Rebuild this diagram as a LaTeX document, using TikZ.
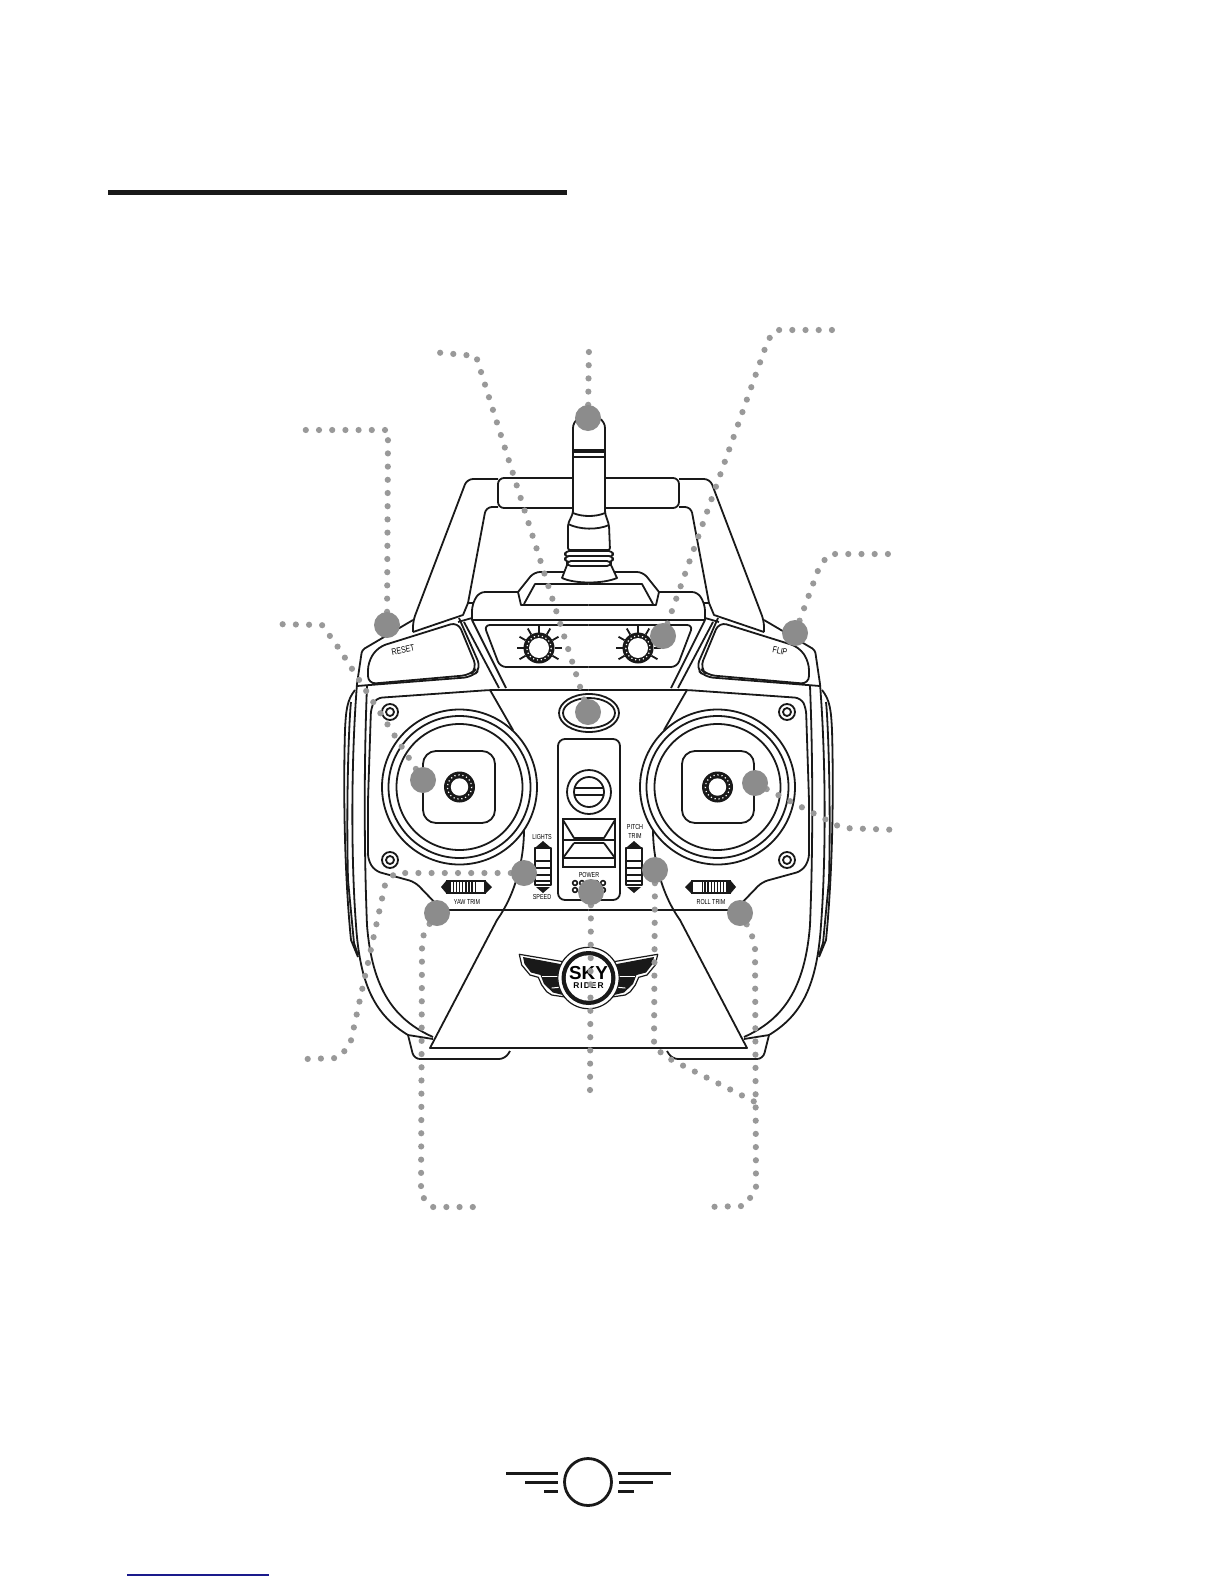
\documentclass[tikz,border=0pt]{standalone}
\usepackage{xcolor}
\usepackage{fontspec}
\newfontfamily\labelfont[FakeStretch=0.75]{Liberation Sans}
\newfontfamily\logofont{Liberation Sans}
\newfontfamily\logospaced[LetterSpace=12]{Liberation Sans}
\definecolor{markergrey}{HTML}{8C8C8C}
\definecolor{dotgrey}{HTML}{999999}
\definecolor{linkblue}{HTML}{1A1A8C}
\pgfdeclarelayer{front}
\pgfsetlayers{main,front}
\tikzstyle{outline} = [draw=black!90, line width=0.9pt, line join=round]
\tikzstyle{softline} = [outline, rounded corners=3pt]
\tikzstyle{marker} = [circle, fill=markergrey, minimum size=13pt, inner sep=0pt]
\tikzstyle{leader} = [draw=dotgrey, line width=3.1pt, line cap=round, dash pattern=on 0pt off 6.6pt]
\tikzstyle{tinylabel} = [font=\labelfont\fontsize{3.6}{4}\selectfont, inner sep=0pt, text=black]
\tikzstyle{bigbar} = [line width=1.5pt, draw=black!90]
\newcommand{\dialring}[3]{
    \fill[black!90] (#1,#2) circle [radius=15.5];
    \draw[white, line width=0.6pt, dash pattern=on 0.6pt off 1.4pt] (#1,#2) circle [radius=12.2];
    \fill[white] (#1,#2) circle [radius=#3];
}
\begin{document}
\begin{tikzpicture}[x=0.5pt, y=-0.5pt]
    \useasboundingbox (0,0) rectangle (1224,1584);

    % Heading rule and page foot
    \draw[line width=2.5pt, black!90] (108,192) -- (567,192);
    \draw[linkblue, line width=0.6pt] (127,1575) -- (269,1575);
    \draw[line width=1.4pt, black!90] (588,1482) circle [radius=23.5];
    \draw[bigbar] (506,1473) -- (558,1473);
    \draw[bigbar] (525,1482) -- (558,1482);
    \draw[bigbar] (544,1491) -- (558,1491);
    \draw[bigbar] (618,1473) -- (671,1473);
    \draw[bigbar] (619,1482) -- (653,1482);
    \draw[bigbar] (618,1491) -- (634,1491);

    % Handle bar
    \draw[softline] (498,478) rectangle (679,508);

    % Both halves of the controller
    \foreach \sx/\off in {1/0, -1/1177} {
    \begin{scope}[shift={(\off,0)}, xscale=\sx]
        % Handle
        \draw[softline] (413,632) -- (413,621) -- (467,479) -- (498,479);
        \draw[softline] (468,603) -- (486,507) -- (498,507);
        \draw[outline] (413,632) -- (463,615) -- (468,603) -- (473,603);

        % Shell
        \draw[outline, rounded corners=1.5pt] (413,620) -- (362,650) -- (357,684);
        \draw[outline] (357,684) .. controls (351,760) and (351,860) .. (356,925) .. controls (360,985) and (375,1015) .. (408,1035) -- (433,1039);
        \draw[outline] (367,686) .. controls (364,760) and (364,850) .. (367,925) .. controls (372,990) and (395,1020) .. (433,1037);
        \draw[softline] (408,1035) -- (414,1059) -- (505,1059) -- (510,1051);

        % Grip
        \draw[outline] (355,690) .. controls (347,700) and (346,710) .. (345,730) .. controls (343,800) and (345,880) .. (351,940) -- (358,957);
        \draw[outline] (351,702) .. controls (349,720) and (346,800) .. (348,880) -- (354,943) -- (358,955);

        % Shoulder button
        \draw[outline, rounded corners=4pt] (368,684) -- (368,662) -- (378,647) -- (458,622) -- (477,668) -- (470,675) -- cycle;
        \draw[outline] (458,622) -- (472,618);
        \draw[outline, rounded corners=4pt] (459,618) -- (481,668) -- (472,677) -- (357,686);

        % Top panel
        \draw[softline] (472,620) -- (472,605) -- (479,592) -- (518,592);
        \draw[outline] (472,620) -- (588.5,620);
        \draw[outline] (472,620) -- (506,688);
        \draw[outline] (464,622) -- (499,688);
        \draw[softline] (518,592) -- (534,572) -- (588.5,572);
        \draw[outline] (518,592) -- (521,605) -- (588.5,605);
        \draw[outline] (524,604) -- (535,584) -- (588.5,584);
        \draw[softline] (588.5,625) -- (484,625) -- (500,667) -- (588.5,667);

        % Dials
        \foreach \ang in {0,30,60,90,120,150,180,210,330} {
            \draw[outline] (539,648) ++(\ang:-15.5) -- ++(\ang:-7);
        }
        \dialring{539}{648}{10}

        % Main panel
        \draw[softline] (588.5,690) -- (490,690) -- (376,698) -- (371,708) -- (368,800) -- (368,860) -- (375,871) -- (415,882) -- (442,910) -- (588.5,910);

        % Centre plate
        \draw[outline] (490,690) -- (513,730);
        \draw[outline] (524,830) .. controls (524,860) and (515,895) .. (497,920) -- (430,1048) -- (588.5,1048);

        % Stick well
        \draw[outline, fill=white] (459.5,787) circle [radius=77.5];
        \draw[outline] (459.5,787) circle [radius=71];
        \draw[outline] (459.5,787) circle [radius=63];
        \draw[outline, rounded corners=6.5pt] (423,751) rectangle (495,823);
        \dialring{459.5}{787}{8.7}

        % Screws
        \foreach \yy in {712,860} {
            \draw[outline] (390,\yy) circle [radius=8];
            \draw[outline] (390,\yy) circle [radius=4];
        }

        % Horizontal trim
        \fill[black!90] (446,880) rectangle (486,894);
        \foreach \i in {0,...,7} {
            \fill[white] ({451+3.1*\i},882) rectangle ({452.8+3.1*\i},892);
        }
        \fill[white] (475.5,882) rectangle (484,892);
        \fill[black!90] (446,881) -- (441,887) -- (446,893) -- cycle;
        \fill[black!90] (486,881) -- (492,887) -- (486,893) -- cycle;

        % Vertical trim
        \draw[outline, line width=1pt] (535,848) rectangle (551,885);
        \foreach \yy in {861,868,875,881} {
            \draw[outline] (535,\yy) -- (551,\yy);
        }
        \fill[black!90] (536,847) -- (543,841) -- (550,847) -- cycle;
        \fill[black!90] (536,887) -- (543,893) -- (550,887) -- cycle;

        % Logo wing
        \draw[outline, line width=0.6pt, fill=white] (519.3,954.3) -- (563.3,961.7) -- (565,997) -- (551.7,995) -- (546.7,991.7) -- (541.7,985) -- (538.3,977.3) -- (530,975) -- (521.7,965) -- cycle;
        \fill[black!90] (523,957) -- (563,964.5) -- (563,995) -- (553,992.5) -- (544,984) -- (540.5,975) -- (531,972.5) -- (524.5,964) -- cycle;
        \draw[white, line width=0.5pt] (541.7,976) -- (562,976);
        \draw[white, line width=0.5pt] (551.7,988) -- (563,987);
    \end{scope}
    }

    % Antenna mount
    \draw[outline, rounded corners=1pt, fill=white] (568,550) -- (568,524) -- (573,513) -- (573,430) .. controls (573,420) and (582,415) .. (589,415) .. controls (596,415) and (605,420) .. (605,430) -- (605,513) -- (609,525) -- (610,550) -- cycle;
    \draw[outline] (573,513) .. controls (582,517) and (596,517) .. (605,513);
    \draw[outline] (568,524) .. controls (580,530) and (598,530) .. (609,525);
    \draw[line width=2.2pt, black!90] (573,451) -- (605,451);
    \draw[outline] (573,457) -- (605,457);
    \draw[outline, fill=white] (567,565) -- (562,578) .. controls (575,584) and (603,584) .. (617,578) -- (611,565) -- cycle;
    \draw[outline, fill=white, rounded corners=2pt] (565,551) rectangle (613,557);
    \draw[outline, fill=white, rounded corners=2pt] (565,556) rectangle (613,562);
    \draw[outline, fill=white, rounded corners=2pt] (567,561) rectangle (611,566);

    % Centre column
    \draw[outline, rounded corners=3.5pt] (558,739) rectangle (620,900);
    \draw[outline] (589,713) ellipse [x radius=30, y radius=19];
    \draw[outline] (589,713) ellipse [x radius=26, y radius=15];
    \draw[outline] (589,792) circle [radius=22];
    \draw[outline] (589,792) circle [radius=15];
    \draw[outline] (575,788) -- (603,788);
    \draw[outline] (575,795) -- (603,795);

    % Power switch
    \draw[line width=1.1pt, black!90] (563,819) rectangle (615,867);
    \draw[line width=1.4pt, black!90] (563,840) -- (615,840);
    \draw[outline] (563,858) -- (615,858);
    \draw[outline] (563,820) -- (574,838) -- (604,838) -- (615,820);
    \draw[outline] (574,843) -- (563,858);
    \draw[outline] (604,843) -- (615,858);
    \draw[outline] (574,843) -- (604,843);
    \foreach \xx in {575,582,596,603} {
        \draw[outline, line width=0.8pt] (\xx,883) circle [radius=2.4];
        \draw[outline, line width=0.8pt] (\xx,890) circle [radius=2.4];
    }

    % Logo badge
    \draw[outline, line width=0.6pt, fill=white] (588.5,978) circle [radius=30.7];
    \fill[black!90] (588.5,978) circle [radius=27];
    \fill[white] (588.5,978) circle [radius=22.7];
    \node[inner sep=0pt, font=\logofont\bfseries\fontsize{9.4}{10}\selectfont] (logosky) at (588.5,973) {SKY};
    \node[inner sep=0pt, font=\logospaced\bfseries\fontsize{4.2}{5}\selectfont] (logorider) at (588.5,986) {RIDER};

    % Labels on the case
    \node[tinylabel, font=\labelfont\fontsize{4.6}{5}\selectfont, rotate=12] (resetlabel) at (403,650) {RESET};
    \node[tinylabel, font=\labelfont\fontsize{4.6}{5}\selectfont, rotate=-12] (fliplabel) at (780,651) {FLIP};
    \node[tinylabel] (lightslabel) at (542,837) {LIGHTS};
    \node[tinylabel] (speedlabel) at (542,897) {SPEED};
    \node[tinylabel] (pitchlabel) at (635,827) {PITCH};
    \node[tinylabel] (trimlabel) at (635,836) {TRIM};
    \node[tinylabel] (powerlabel) at (589,875) {POWER};
    \node[tinylabel] (yawlabel) at (467,902) {YAW TRIM};
    \node[tinylabel] (rolllabel) at (711,902) {ROLL TRIM};

    % Callout markers
    \begin{pgfonlayer}{front}
    \node[marker] (antenna) at (588,418) {};
    \node[marker] (reset) at (387,625) {};
    \node[marker] (flip) at (795,633) {};
    \node[marker] (dial) at (663,636) {};
    \node[marker] (oval) at (588,712) {};
    \node[marker] (leftstick) at (423,780) {};
    \node[marker] (rightstick) at (755,783) {};
    \node[marker] (lights) at (524,873) {};
    \node[marker] (power) at (591,892) {};
    \node[marker] (pitch) at (655,870) {};
    \node[marker] (yaw) at (437,913) {};
    \node[marker] (roll) at (740,913) {};
    \end{pgfonlayer}

    % Free ends of the leaders
    \coordinate (antennaend) at (589,343);
    \coordinate (resetend) at (296,430);
    \coordinate (flipend) at (898,554);
    \coordinate (dialend) at (838,330);
    \coordinate (ovalend) at (432,352);
    \coordinate (leftstickend) at (272,624);
    \coordinate (rightstickend) at (900,830);
    \coordinate (lightsend) at (306,1059);
    \coordinate (powerend) at (590,1091);
    \coordinate (pitchend) at (757,1103);
    \coordinate (yawend) at (476,1207);
    \coordinate (rollend) at (705,1207);

    % Leaders
    \draw[leader] (antenna.center) -- (antennaend);
    \draw[leader] (reset.center) -- (388,430) -- (resetend);
    \draw[leader] (flip.center) -- (820,565) -- (830,554) -- (flipend);
    \draw[leader] (dial.center) -- (768,340) -- (776,330) -- (dialend);
    \draw[leader] (oval.center) -- (476,356) -- (ovalend);
    \draw[leader] (leftstick.center) -- (340,650) -- (322,625) -- (leftstickend);
    \draw[leader] (rightstick.center) -- (842,828) -- (rightstickend);
    \draw[leader] (lights.center) -- (395,873) -- (385,885) -- (350,1045) -- (338,1058) -- (lightsend);
    \draw[leader] (power.center) -- (powerend);
    \draw[leader] (pitch.center) -- (654,1045) -- (664,1056) -- (pitchend);
    \draw[leader] (yaw.center) -- (424,932) -- (422,948) -- (421,1195) -- (432,1207) -- (yawend);
    \draw[leader] (roll.center) -- (750,930) -- (755,945) -- (756,1190) -- (744,1206) -- (rollend);
\end{tikzpicture}
\end{document}
